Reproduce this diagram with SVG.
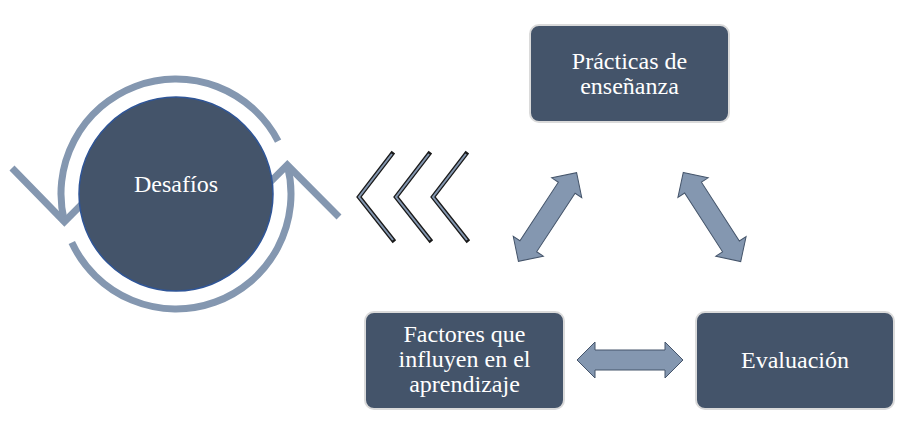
<svg xmlns="http://www.w3.org/2000/svg" width="915" height="422" viewBox="0 0 915 422">
  <defs>
    <style>
      .box { fill: #44546A; stroke: #DADADA; stroke-width: 2; }
      .lbl { font-family: "Liberation Serif", "Times New Roman", serif; font-size: 24px; fill: #FFFFFF; text-anchor: middle; }
      .cyc { fill: none; stroke: #8497B0; stroke-width: 7; stroke-linecap: butt; stroke-linejoin: miter; }
      .chevO { fill: none; stroke: #1A1A1A; stroke-width: 4.5; stroke-linejoin: miter; stroke-linecap: square; }
      .chevI { fill: none; stroke: #8497B0; stroke-width: 2; stroke-linejoin: miter; stroke-linecap: butt; }
      .dbl { fill: #8497B0; stroke: #44546A; stroke-width: 1; }
    </style>
    <path id="dblArrow" d="M -53,0 L -35,-18 L -35,-10 L 35,-10 L 35,-18 L 53,0 L 35,18 L 35,10 L -35,10 L -35,18 Z"/>
  </defs>
  <rect width="915" height="422" fill="#FFFFFF"/>

  <g id="desafios">
    <path class="cyc" d="M 64.4,221.8 A 115 115 0 0 1 278.1,141.1"/>
    <polyline class="cyc" points="12,168 64.4,221.8 116,170"/>
    <path class="cyc" d="M 71.8,242.6 A 115 115 0 0 0 287.3,165"/>
    <polyline class="cyc" points="235,217 287.3,165 339,217"/>
    <circle cx="176" cy="194" r="97" fill="#44546A" stroke="#2F5597" stroke-width="1.5"/>
    <text class="lbl" x="176" y="192" font-size="21">Desafíos</text>
  </g>

  <g id="chevrons">
    <polyline class="chevO" points="392,154 359,197 393,240"/>
    <polyline class="chevI" points="392,154 359,197 393,240"/>
    <polyline class="chevO" points="429,154 396,197 430,240"/>
    <polyline class="chevI" points="429,154 396,197 430,240"/>
    <polyline class="chevO" points="466,154 433,197 467,240"/>
    <polyline class="chevI" points="466,154 433,197 467,240"/>
  </g>

  <g id="practicas">
    <rect class="box" x="530" y="25" width="199" height="97" rx="9"/>
    <text class="lbl" x="629.5" y="68.5">Prácticas de</text>
    <text class="lbl" x="629.5" y="93.5">enseñanza</text>
  </g>

  <g id="factores">
    <rect class="box" x="365" y="312" width="199" height="97" rx="9"/>
    <text class="lbl" x="464.5" y="342">Factores que</text>
    <text class="lbl" x="464.5" y="367">influyen en el</text>
    <text class="lbl" x="464.5" y="392">aprendizaje</text>
  </g>

  <g id="evaluacion">
    <rect class="box" x="696" y="312" width="198" height="97" rx="9"/>
    <text class="lbl" x="795" y="368">Evaluación</text>
  </g>

  <g id="connectors">
    <use href="#dblArrow" class="dbl" transform="translate(547.5,217) rotate(-56.7)"/>
    <use href="#dblArrow" class="dbl" transform="translate(712,217) rotate(57.2)"/>
    <use href="#dblArrow" class="dbl" transform="translate(630,360)"/>
  </g>
</svg>
